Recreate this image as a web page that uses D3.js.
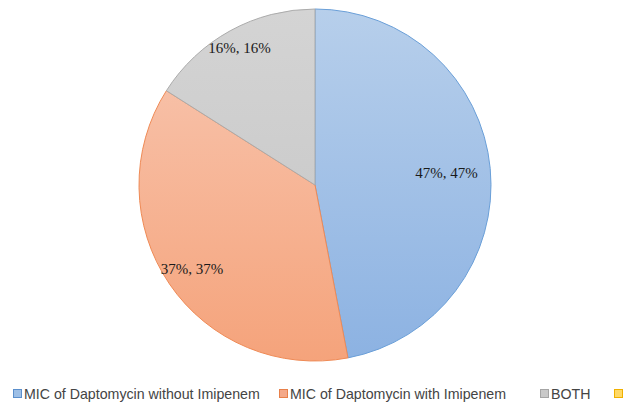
<!DOCTYPE html>
<html><head><meta charset="utf-8">
<script src="https://cdn.jsdelivr.net/npm/d3@7"></script>
<style>body{margin:0;background:#fff}</style>
</head><body>
<script>
const categories = ["MIC of Daptomycin without Imipenem", "MIC of Daptomycin with Imipenem", "BOTH", ""];
const values = [47, 37, 16, 0];
const percents = [47, 37, 16, 0];
const topColors = ["#b7cfeb", "#f8c8b3", "#d4d4d4", "#ffe38a"];
const bottomColors = ["#8cb2e2", "#f5a37b", "#c4c4c4", "#ffc000"];
const strokeColors = ["#6a9fd8", "#ef8a55", "#ababab", "#ffc000"];
const legendFill = ["#9dbfe6", "#f4a98a", "#c9c9c9", "#ffd966"];
const legendStroke = ["#5b8fcc", "#e8804a", "#a5a5a5", "#f0b000"];
// label placement (fraction of radius) per slice, "best fit" style
const labelRadius = [0.75, 0.845, 0.89, 0.8];

const W = 624, H = 404, cx = 315, cy = 185, R = 176;
const svg = d3.select("body").append("svg").attr("width", W).attr("height", H);
const defs = svg.append("defs");
categories.forEach((c, i) => {
  const g = defs.append("linearGradient").attr("id", "g" + i)
    .attr("gradientUnits", "userSpaceOnUse")
    .attr("x1", 0).attr("y1", -R).attr("x2", 0).attr("y2", R);
  g.append("stop").attr("offset", "0%").attr("stop-color", topColors[i]);
  g.append("stop").attr("offset", "100%").attr("stop-color", bottomColors[i]);
});

const data = categories.map((c, i) => ({c, v: values[i], p: percents[i], i}));
const pie = d3.pie().value(d => d.v).sort(null);
const arcs = pie(data).filter(a => a.data.v > 0);
const arc = d3.arc().innerRadius(0).outerRadius(R);
const gPie = svg.append("g").attr("transform", `translate(${cx},${cy})`);
gPie.selectAll("path").data(arcs).join("path")
  .attr("d", arc)
  .attr("fill", d => `url(#g${d.data.i})`)
  .attr("stroke", d => strokeColors[d.data.i])
  .attr("stroke-width", 1);

gPie.selectAll("text").data(arcs).join("text")
  .attr("transform", d => {
    const r = R * labelRadius[d.data.i];
    const [x, y] = d3.arc().innerRadius(r).outerRadius(r).centroid(d);
    return `translate(${x},${y})`;
  })
  .attr("text-anchor", "middle").attr("dy", "0.35em")
  .attr("font-family", "Liberation Serif, Times New Roman, serif")
  .attr("font-size", 15).attr("fill", "#1a1a1a")
  .text(d => `${d.data.p}%, ${d.data.p}%`);

const legendX = [13, 279, 540, 614];
const lg = svg.append("g");
categories.forEach((c, i) => {
  lg.append("rect").attr("x", legendX[i] + 0.5).attr("y", 389.5).attr("width", 8).attr("height", 8)
    .attr("fill", legendFill[i]).attr("stroke", legendStroke[i]).attr("stroke-width", 1);
  if (c) lg.append("text").attr("x", legendX[i] + 11).attr("y", 398.5)
    .attr("font-family", "Liberation Sans, Arial, sans-serif").attr("font-size", 14.2)
    .attr("fill", "#444").text(c);
});
</script>
</body></html>
